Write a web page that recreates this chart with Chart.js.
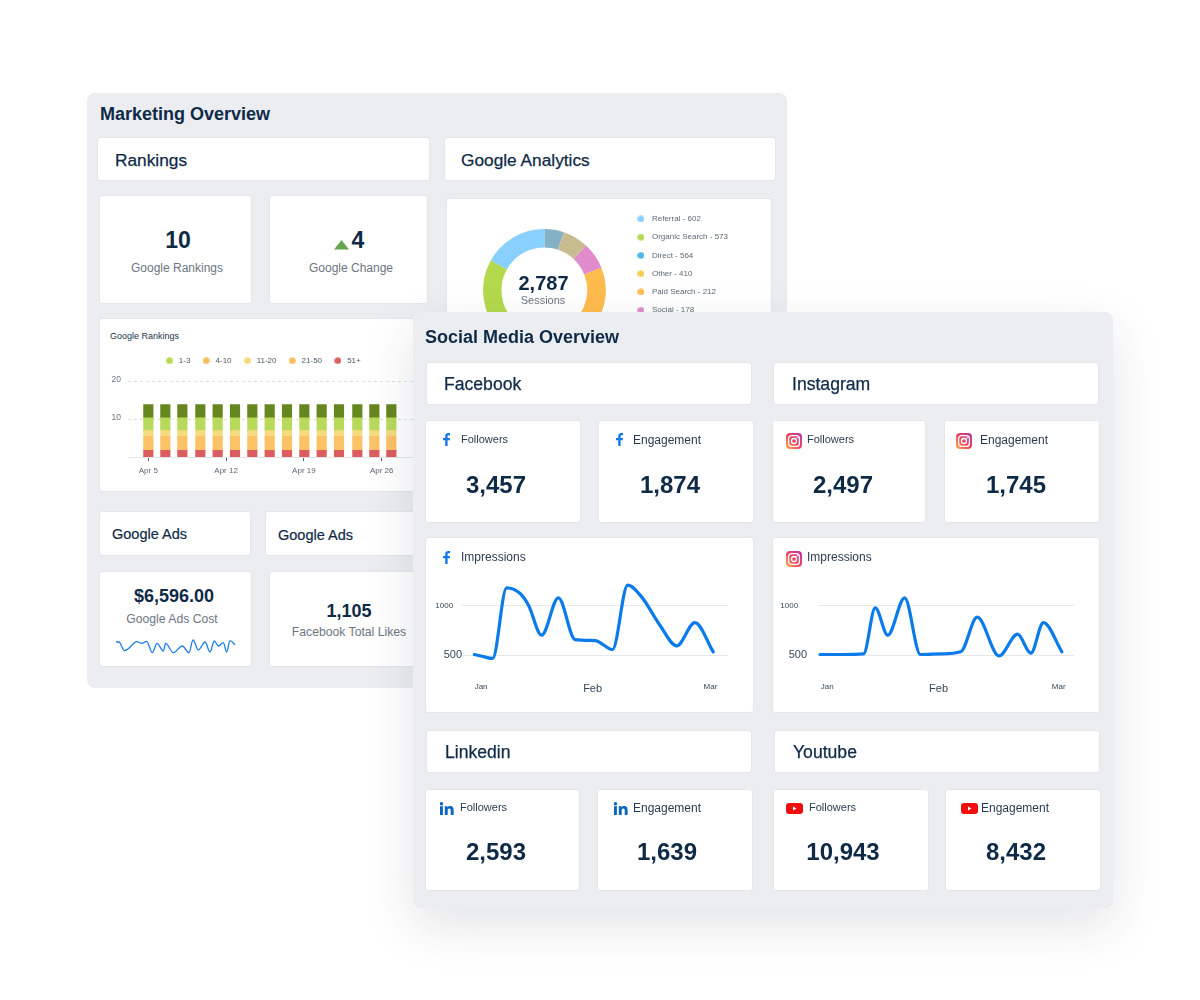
<!DOCTYPE html>
<html><head><meta charset="utf-8">
<script src="https://cdn.jsdelivr.net/npm/chart.js@4"></script>
<style>
html,body{margin:0;padding:0;background:#fff;width:1200px;height:1000px;overflow:hidden;font-family:"Liberation Sans",Arial,sans-serif;color:#0e2a47}
.panel{position:absolute;background:#ebedf1;border-radius:8px}
.box{position:absolute;background:#fff;border:1px solid #e4e6ea;border-radius:3px;box-sizing:border-box}
.t{position:absolute;transform:translateY(-50%);white-space:nowrap;line-height:1.2}
.c{transform:translate(-50%,-50%)}
.h1{font-size:18px;font-weight:700;color:#0e2a47}
.h2{font-size:17.3px;color:#0e2a47;-webkit-text-stroke:.25px #0e2a47}
.h2s{font-size:17.6px;color:#0e2a47;-webkit-text-stroke:.25px #0e2a47}
.h3{font-size:14.5px;color:#0e2a47;-webkit-text-stroke:.2px #0e2a47}
.num{font-size:24px;font-weight:700;color:#0e2a47}
.num2{font-size:23px;font-weight:700;color:#0e2a47}
.num3{font-size:18px;font-weight:700;color:#0e2a47}
.lab{font-size:12px;color:#6c7682}
.lab2{font-size:12.2px;color:#6c7682}
.sm{font-size:11px;color:#2a3c50}
.sm2{font-size:12px;color:#2a3c50}
canvas{position:absolute}
svg{position:absolute}
#panelS{box-shadow:0 18px 50px rgba(30,40,60,.12);z-index:5}
#layerS{position:absolute;left:0;top:0;z-index:6}
</style></head><body>
<div class="panel" style="left:87px;top:93px;width:700px;height:595px"></div>
<div class="t h1" style="left:100px;top:115px">Marketing Overview</div>
<div class="box" style="left:97px;top:137px;width:333px;height:44px"></div><div class="t h2" style="left:115px;top:160px">Rankings</div>
<div class="box" style="left:444px;top:137px;width:332px;height:44px"></div><div class="t h2" style="left:461px;top:160px">Google Analytics</div>
<div class="box" style="left:99px;top:195px;width:153px;height:109px"></div>
<div class="t c num2" style="left:178px;top:241px">10</div><div class="t c lab" style="left:177px;top:268px">Google Rankings</div>
<div class="box" style="left:269px;top:195px;width:159px;height:109px"></div>
<svg style="left:334px;top:240px" width="15" height="10"><polygon points="7.5,0 15,9.5 0,9.5" fill="#6aa650"/></svg>
<div class="t c num2" style="left:358px;top:241px">4</div><div class="t c lab" style="left:351px;top:268px">Google Change</div>
<div class="box" style="left:99px;top:318px;width:340px;height:174px"></div>
<div class="t" style="left:110px;top:335.5px;font-size:9px;color:#22344a">Google Rankings</div>
<canvas id="bars" style="left:99px;top:319px" width="325" height="172"></canvas>
<div class="box" style="left:446px;top:198px;width:326px;height:140px"></div>
<canvas id="donut" style="left:446px;top:198px" width="326" height="178"></canvas>
<div class="t c" style="left:543.5px;top:283px;font-size:20px;font-weight:700;color:#0e2a47">2,787</div>
<div class="t c lab" style="left:543px;top:301px;font-size:11px">Sessions</div>
<div class="box" style="left:99px;top:511px;width:152px;height:45px"></div><div class="t h3" style="left:112px;top:534.5px">Google Ads</div>
<div class="box" style="left:265px;top:511px;width:160px;height:45px"></div><div class="t h3" style="left:278px;top:535.5px">Google Ads</div>
<div class="box" style="left:99px;top:571px;width:153px;height:96px"></div>
<div class="t c num3" style="left:174px;top:597px">$6,596.00</div><div class="t c lab2" style="left:172px;top:618.5px">Google Ads Cost</div>
<canvas id="spark" style="left:112px;top:634px" width="128" height="22"></canvas>
<div class="box" style="left:269px;top:571px;width:160px;height:96px"></div>
<div class="t c num3" style="left:349px;top:612px">1,105</div><div class="t c lab2" style="left:349px;top:632px">Facebook Total Likes</div>

<div class="panel" id="panelS" style="left:413px;top:312px;width:700px;height:596px"></div>
<div id="layerS">
<div class="t h1" style="left:425px;top:337.5px">Social Media Overview</div>
<div class="box" style="left:426px;top:362px;width:326px;height:43px"></div><div class="t h2s" style="left:444px;top:384.5px">Facebook</div>
<div class="box" style="left:773px;top:362px;width:326px;height:43px"></div><div class="t h2s" style="left:792px;top:384.5px">Instagram</div>
<div class="box" style="left:425px;top:420px;width:156px;height:103px"></div><div class="box" style="left:598px;top:420px;width:156px;height:103px"></div>
<div class="box" style="left:772px;top:420px;width:154px;height:103px"></div><div class="box" style="left:944px;top:420px;width:156px;height:103px"></div>
<div class="t sm" style="left:461px;top:440px">Followers</div><div class="t c num" style="left:496px;top:485px">3,457</div>
<div class="t sm2" style="left:633px;top:439.5px">Engagement</div><div class="t c num" style="left:670px;top:485px">1,874</div>
<div class="t sm" style="left:807px;top:440px">Followers</div><div class="t c num" style="left:843px;top:485px">2,497</div>
<div class="t sm2" style="left:980px;top:439.5px">Engagement</div><div class="t c num" style="left:1016px;top:485px">1,745</div>
<div class="box" style="left:425px;top:537px;width:329px;height:176px"></div><div class="box" style="left:772px;top:537px;width:328px;height:176px"></div>
<div class="t sm2" style="left:461px;top:557px">Impressions</div><div class="t sm2" style="left:807px;top:557px">Impressions</div>
<canvas id="fbLine" style="left:425px;top:576px" width="303" height="124"></canvas>
<canvas id="igLine" style="left:772px;top:576px" width="302" height="124"></canvas>
<div class="box" style="left:426px;top:730px;width:326px;height:43px"></div><div class="t h2s" style="left:445px;top:752.5px">Linkedin</div>
<div class="box" style="left:774px;top:730px;width:326px;height:43px"></div><div class="t h2s" style="left:793px;top:752.5px">Youtube</div>
<div class="box" style="left:425px;top:789px;width:155px;height:102px"></div><div class="box" style="left:597px;top:789px;width:156px;height:102px"></div>
<div class="box" style="left:773px;top:789px;width:156px;height:102px"></div><div class="box" style="left:945px;top:789px;width:156px;height:102px"></div>
<div class="t sm" style="left:460px;top:808px">Followers</div><div class="t c num" style="left:496px;top:852px">2,593</div>
<div class="t sm2" style="left:633px;top:807.5px">Engagement</div><div class="t c num" style="left:667px;top:852px">1,639</div>
<div class="t sm" style="left:809px;top:808px">Followers</div><div class="t c num" style="left:843px;top:852px">10,943</div>
<div class="t sm2" style="left:981px;top:807.5px">Engagement</div><div class="t c num" style="left:1016px;top:852px">8,432</div>
<svg width="0" height="0"><defs>
<linearGradient id="ig" x1="0" y1="1" x2="1" y2="0"><stop offset="0" stop-color="#fdb24a"/><stop offset=".45" stop-color="#ee4a5e"/><stop offset="1" stop-color="#b42fa8"/></linearGradient>
<g id="fb"><path d="M6.2 14V8.3H4V5.9h2.2V4.2C6.2 2.1 7.4 1 9.3 1c.7 0 1.4.1 1.7.1v2.2H9.8c-1 0-1.2.5-1.2 1.2v1.4H11l-.3 2.4H8.6V14z" fill="#1877e8"/></g>
<g id="igi"><rect x="0" y="0" width="16" height="16" rx="4" fill="url(#ig)"/><rect x="2.6" y="2.6" width="10.8" height="10.8" rx="3" fill="none" stroke="#fff" stroke-width="1.3"/><circle cx="8" cy="8" r="2.5" fill="none" stroke="#fff" stroke-width="1.3"/><circle cx="11.3" cy="4.7" r=".8" fill="#fff"/></g>
<g id="li"><rect x="0" y="4.2" width="2.9" height="8.8" fill="#0a66c2"/><circle cx="1.45" cy="1.8" r="1.7" fill="#0a66c2"/><path d="M4.8 4.2h2.8v1.2c.5-.9 1.5-1.4 2.7-1.4 2.7 0 3.3 1.7 3.3 4V13h-2.9V8.6c0-1 0-2.2-1.4-2.2s-1.6 1.1-1.6 2.1V13H4.8z" fill="#0a66c2"/></g>
<g id="yt"><rect x="0" y="0" width="17" height="11" rx="3" fill="#f00f0f"/><polygon points="7,3.4 10.5,5.5 7,7.6" fill="#fff"/></g>
</defs></svg>
<svg style="left:439px;top:432px" width="16" height="16"><use href="#fb"/></svg>
<svg style="left:612px;top:432px" width="16" height="16"><use href="#fb"/></svg>
<svg style="left:786px;top:433px" width="16" height="16"><use href="#igi"/></svg>
<svg style="left:956px;top:433px" width="16" height="16"><use href="#igi"/></svg>
<svg style="left:439px;top:550px" width="16" height="16"><use href="#fb"/></svg>
<svg style="left:786px;top:551px" width="16" height="16"><use href="#igi"/></svg>
<svg style="left:440px;top:802px" width="15" height="14"><use href="#li"/></svg>
<svg style="left:613.5px;top:802px" width="15" height="14"><use href="#li"/></svg>
<svg style="left:786px;top:803px" width="18" height="12"><use href="#yt"/></svg>
<svg style="left:961px;top:803px" width="18" height="12"><use href="#yt"/></svg>
</div>
<script>
const FONT = 'Liberation Sans';
// ---- Google Rankings stacked bars ----
const barDays = [5,6.53,8.06,9.68,11.24,12.8,14.36,15.92,17.48,19.04,20.6,22.16,23.81,25.34,26.87];
const rank51  = [1.75,1.75,1.75,1.75,1.75,1.75,1.75,1.75,1.75,1.75,1.75,1.75,1.75,1.75,1.75];
const rank21  = [3.7,3.7,3.7,3.7,3.7,3.7,3.7,3.7,3.7,3.7,3.7,3.7,3.7,3.7,3.7];
const rank11  = [1.5,1.5,1.5,1.5,1.5,1.5,1.5,1.5,1.5,1.5,1.5,1.5,1.5,1.5,1.5];
const rank1   = [3.4,3.4,3.4,3.4,3.4,3.4,3.4,3.4,3.4,3.4,3.4,3.4,3.4,3.4,3.4];
const rank4   = [3.5,3.5,3.5,3.5,3.5,3.5,3.5,3.5,3.5,3.5,3.5,3.5,3.5,3.5,3.5];
const rankLegendLabels = ['1-3','4-10','11-20','21-50','51+'];
const rankLegendColors = ['#b5d94c','#f9bc5c','#f5d77c','#fbbd5e','#dc5d5f'];
const rankTickDays = [5,12,19,26];
const rankTickLabels = ['Apr 5','Apr 12','Apr 19','Apr 26'];
const rankYTicks = [10,20];
// ---- Sessions donut ----
const donutValues = [144,189,197,700,300,212,573,472];
const donutColors = ['#85b1c6','#c8bd90','#e08ccc','#ffbb4d','#4db5e8','#f5cf4a','#b4d94c','#8ad0fe'];
const donutLegendLabels = ['Referral - 602','Organic Search - 573','Direct - 564','Other - 410','Paid Search - 212','Social - 178'];
const donutLegendColors = ['#8ad0fe','#b4d94c','#4db5e8','#f5cf4a','#ffbb4d','#e08ccc'];
// ---- Google Ads cost sparkline ----
const sparkX = [63,72,88,100,125,140,155,172,186,205,212,235,262,282,294,310,330,345,358,370,385,395,405,420];
const sparkY = [42,42,16,22,43,38,44,10,38,15,38,10,30,10,48,18,42,12,45,30,40,12,46,34];
// ---- Impressions ----
const fbDays = [0,2.3,4.6,8.1,11.5,13.6,16.9,21.1,25.3,30.3,34.7,38.5,42,46.6,50.8,55.4,60];
const fbVals = [507,485,467,1180,1123,1005,702,1079,658,648,557,1207,1089,803,594,830,533];
const igDays = [0,5.4,10.8,13.7,16.8,21,24.9,29.9,34.9,39,44.4,49,52.3,55.4,60];
const igVals = [507,507,513,978,702,1079,507,513,534,884,493,712,520,830,534];
const fbMonthTicks = [1.7,29.7,59.3];
const igMonthTicks = [1.8,29.4,59.2];
const monthLabels = ['Jan','Feb','Mar'];
const valueTicks = [500,1000];

const num = v => ({value:v});
const noPad = s => {s.paddingTop=0;s.paddingBottom=0;s.paddingLeft=0;s.paddingRight=0;};
// small round legend marker, so the legend's box width can be set apart from the dot size
function dot(color,d){const c=document.createElement('canvas');c.width=d;c.height=d;const x=c.getContext('2d');x.fillStyle=color;x.beginPath();x.arc(d/2,d/2,d/2-0.2,0,Math.PI*2);x.fill();return c;}
new Chart(document.getElementById('bars'),{type:'bar',
 data:{datasets:[
  {label:'51+',data:barDays.map((x,i)=>({x,y:rank51[i]})),backgroundColor:'#dc5d5f'},
  {label:'21-50',data:barDays.map((x,i)=>({x,y:rank21[i]})),backgroundColor:'#fbc266'},
  {label:'11-20',data:barDays.map((x,i)=>({x,y:rank11[i]})),backgroundColor:'#f6da80'},
  {label:'1-3',data:barDays.map((x,i)=>({x,y:rank1[i]})),backgroundColor:'#b9d95b'},
  {label:'4-10',data:barDays.map((x,i)=>({x,y:rank4[i]})),backgroundColor:'#66861f'}
 ].map(d=>Object.assign(d,{barThickness:9.5}))},
 options:{responsive:false,animation:false,layout:{autoPadding:false,padding:{top:27.2,bottom:0,left:2}},
  plugins:{tooltip:{enabled:false},legend:{position:'top',labels:{usePointStyle:true,pointStyleWidth:10.6,boxHeight:6,padding:10.5,color:'#4d5a68',font:{size:8,family:FONT},
    generateLabels:()=>rankLegendLabels.map((t,i)=>({text:t,fillStyle:rankLegendColors[i],strokeStyle:rankLegendColors[i],lineWidth:0,pointStyle:dot(rankLegendColors[i],7),fontColor:'#4d5a68',datasetIndex:i}))}}},
  scales:{
   x:{type:'linear',offset:false,stacked:true,min:3.17,max:29.81,afterFit:s=>{s.height=34;noPad(s)},afterBuildTicks:s=>{s.ticks=rankTickDays.map(num)},
    grid:{display:true,offset:false,drawOnChartArea:false,drawTicks:true,tickLength:4,color:'#55606c',tickWidth:1},border:{color:'#e3e5e8'},
    ticks:{autoSkip:false,maxRotation:0,padding:5,color:'#5c6875',font:{size:8,family:FONT},callback:v=>rankTickLabels[rankTickDays.indexOf(v)]}},
   y:{stacked:true,min:0,max:21.75,afterFit:s=>{s.width=27;noPad(s)},afterBuildTicks:s=>{s.ticks=rankYTicks.map(num)},
    grid:{color:'#dddfe3',drawTicks:false},border:{display:false,dash:[3,3]},
    ticks:{padding:7,labelOffset:-2,color:'#6a7683',font:{size:8.5,family:FONT}}}
  }}});

new Chart(document.getElementById('donut'),{type:'doughnut',
 data:{labels:donutLegendLabels,datasets:[{data:donutValues,backgroundColor:donutColors,borderWidth:0,radius:61.3}]},
 options:{responsive:false,animation:false,cutout:'70%',layout:{padding:{left:19,right:34,top:6.7,bottom:0}},
  plugins:{tooltip:{enabled:false},legend:{position:'right',align:'start',labels:{usePointStyle:true,pointStyleWidth:14,boxHeight:6,padding:10.25,color:'#5e6975',font:{size:8,family:FONT},
   generateLabels:()=>donutLegendLabels.map((t,i)=>({text:t,fillStyle:donutLegendColors[i],strokeStyle:donutLegendColors[i],lineWidth:0,pointStyle:dot(donutLegendColors[i],7),fontColor:'#5e6975',index:i}))}}}}});

new Chart(document.getElementById('spark'),{type:'line',
 data:{datasets:[{data:sparkX.map((x,i)=>({x,y:sparkY[i]})),borderColor:'#1b7fe8',borderWidth:1.3,pointRadius:0,cubicInterpolationMode:'monotone',fill:false}]},
 options:{responsive:false,animation:false,layout:{padding:0},plugins:{legend:{display:false},tooltip:{enabled:false}},
  scales:{x:{type:'linear',display:false,min:51,max:435},y:{display:false,min:0,max:66}}}});

function impressions(id,days,vals,xMin,xMax,ticks,yW,yPad){
 new Chart(document.getElementById(id),{type:'line',
  data:{datasets:[{data:days.map((x,i)=>({x,y:vals[i]})),borderColor:'#0b7bea',borderWidth:3.2,pointRadius:0,cubicInterpolationMode:'monotone',borderCapStyle:'round',borderJoinStyle:'round',fill:false,clip:false}]},
  options:{responsive:false,animation:false,layout:{autoPadding:false,padding:0},plugins:{legend:{display:false},tooltip:{enabled:false}},
   scales:{
    x:{type:'linear',min:xMin,max:xMax,afterFit:s=>{s.height=25;noPad(s)},afterBuildTicks:s=>{s.ticks=ticks.map(num)},grid:{display:false,drawTicks:false},border:{display:false},
     ticks:{autoSkip:false,maxRotation:0,padding:7,color:'#36475a',font:c=>({size:c.index===1?11:8,family:FONT}),callback:v=>monthLabels[ticks.indexOf(v)]}},
    y:{min:300,max:1300,afterFit:s=>{s.width=yW;noPad(s)},afterBuildTicks:s=>{s.ticks=valueTicks.map(num)},grid:{color:'#e6e8ec',drawTicks:false},border:{display:false},
     ticks:{padding:yPad,color:'#36475a',font:c=>({size:c.index===0?11:8,family:FONT}),callback:v=>v===1000?'1000\u00A0\u00A0\u00A0\u00A0':'500'}}
   }}});
}
impressions('fbLine',fbDays,fbVals,-3.1,63.7,fbMonthTicks,37,0);
impressions('igLine',igDays,igVals,-0.5,63,igMonthTicks,46,11);
</script>
</body></html>
